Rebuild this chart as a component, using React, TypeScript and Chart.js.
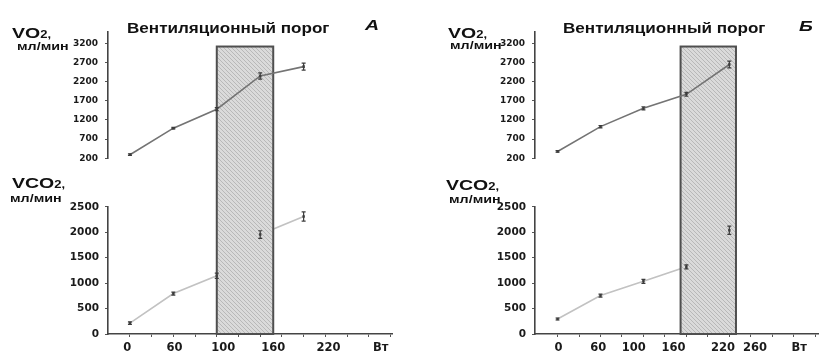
import React, { useEffect, useRef } from "react";
import { Chart, registerables } from "chart.js";

Chart.register(...registerables);

// ---------- data (panel А) ----------
const loadIdxA = [0, 2, 4, 6, 8];
const vo2A = [290, 985, 1480, 2350, 2595];
const vo2ErrA = [20, 20, 40, 80, 90];
const vco2A = [215, 795, 1145, 1955, 2310];
const vco2ErrA = [25, 30, 50, 75, 90];
const xLabelsA = ["0", "60", "100", "160", "220", "Вт"];
const xLabelPosA = [-0.12, 2.05, 4.3, 6.6, 9.15, 11.55];
const zoneA = [4.0, 6.6];

// ---------- data (panel Б) ----------
const loadIdxB = [0, 2, 4, 6, 8];
const vo2B = [375, 1025, 1505, 1870, 2650];
const vo2ErrB = [20, 30, 40, 50, 90];
const vco2B = [295, 755, 1035, 1320, 2040];
const vco2ErrB = [20, 30, 40, 40, 80];
const xLabelsB = ["0", "60", "100", "160", "220", "260", "Вт"];
const xLabelPosB = [0.05, 1.9, 3.55, 5.4, 7.7, 9.2, 11.25];
const zoneB = [5.73, 8.31];

// ---------- shared axes ----------
const vo2Ticks = [200, 700, 1200, 1700, 2200, 2700, 3200];
const vco2Ticks = [0, 500, 1000, 1500, 2000, 2500];
const minorTicks = [0, 1, 2, 3, 4, 5, 6, 7, 8, 9, 10, 11, 12];
const zoneTopVO2 = 3120;

type Panel = {
  x: number[];
  vo2: number[];
  vo2Err: number[];
  vco2: number[];
  vco2Err: number[];
  labels: string[];
  labelPos: number[];
  zone: number[];
  xMin: number;
  xMax: number;
  axisLeft: number;
  padRight: number;
};

const panelA: Panel = {
  x: loadIdxA, vo2: vo2A, vo2Err: vo2ErrA, vco2: vco2A, vco2Err: vco2ErrA,
  labels: xLabelsA, labelPos: xLabelPosA, zone: zoneA,
  xMin: -1.01, xMax: 12.07, axisLeft: 108, padRight: 19,
};
const panelB: Panel = {
  x: loadIdxB, vo2: vo2B, vo2Err: vo2ErrB, vco2: vco2B, vco2Err: vco2ErrB,
  labels: xLabelsB, labelPos: xLabelPosB, zone: zoneB,
  xMin: -1.05, xMax: 12.13, axisLeft: 124, padRight: 1,
};

function makeHatch(ctx: CanvasRenderingContext2D): CanvasPattern | string {
  const c = document.createElement("canvas");
  c.width = 4;
  c.height = 4;
  const g = c.getContext("2d");
  if (!g) return "#d6d6d6";
  g.fillStyle = "#dadada";
  g.fillRect(0, 0, 4, 4);
  g.strokeStyle = "#b8b8b8";
  g.lineWidth = 1;
  g.beginPath();
  g.moveTo(0, 0);
  g.lineTo(4, 4);
  g.stroke();
  return ctx.createPattern(c, "repeat") || "#d6d6d6";
}

const zonePlugin = {
  id: "zone",
  beforeDatasetDraw(chart: any, args: any, opts: any) {
    if (args.index !== 1) return;
    const { x, yv, yc } = chart.scales;
    const ctx = chart.ctx as CanvasRenderingContext2D;
    const l = x.getPixelForValue(opts.range[0]);
    const r = x.getPixelForValue(opts.range[1]);
    const t = yv.getPixelForValue(opts.top);
    const b = yc.getPixelForValue(0);
    ctx.save();
    ctx.fillStyle = makeHatch(ctx);
    ctx.fillRect(l, t, r - l, b - t);
    ctx.strokeStyle = "#4f4f4f";
    ctx.lineWidth = 2;
    ctx.strokeRect(l, t, r - l, b - t);
    ctx.restore();
  },
  afterDatasetDraw(chart: any, args: any) {
    const ds = chart.data.datasets[args.index];
    if (!ds.err) return;
    const scale = chart.scales[ds.yAxisID];
    const ctx = chart.ctx as CanvasRenderingContext2D;
    ctx.save();
    ctx.strokeStyle = "#3c3c3c";
    ctx.lineWidth = 1.2;
    args.meta.data.forEach((pt: any, i: number) => {
      const v = ds.data[i].y;
      const e = ds.err[i];
      const yt = scale.getPixelForValue(v + e);
      const yb = scale.getPixelForValue(v - e);
      ctx.beginPath();
      ctx.moveTo(pt.x, yt);
      ctx.lineTo(pt.x, yb);
      ctx.moveTo(pt.x - 2, yt);
      ctx.lineTo(pt.x + 2, yt);
      ctx.moveTo(pt.x - 2, yb);
      ctx.lineTo(pt.x + 2, yb);
      ctx.stroke();
    });
    ctx.restore();
  },
};

const tickFont = (size: number) => ({ family: "DejaVu Sans", size, weight: "bold" as const });

function buildConfig(p: Panel): any {
  const pts = (xs: number[], ys: number[]) => xs.map((x, i) => ({ x, y: ys[i] }));
  const xTicks = [
    ...minorTicks.map((v) => ({ value: v, lbl: "" })),
    ...p.labelPos.map((v, i) => ({ value: v, lbl: p.labels[i], isLabel: true })),
  ].sort((a, b) => a.value - b.value);

  const yCommon = (left: number) => ({
    type: "linear",
    position: "left",
    stack: "panel",
    afterFit: (s: any) => {
      s.width = left;
    },
  });

  return {
    type: "line",
    data: {
      datasets: [
        {
          label: "VCO2",
          data: pts(p.x, p.vco2),
          yAxisID: "yc",
          borderColor: "#c2c2c2",
          borderWidth: 1.6,
          pointRadius: 0,
          order: 4,
        },
        {
          label: "VO2",
          data: pts(p.x, p.vo2),
          yAxisID: "yv",
          borderColor: "#747474",
          borderWidth: 1.6,
          pointRadius: 0,
          order: 3,
        },
        {
          label: "VCO2 points",
          data: pts(p.x, p.vco2),
          yAxisID: "yc",
          showLine: false,
          pointStyle: "rect",
          pointRadius: 1.8,
          pointBackgroundColor: "#4a4a4a",
          pointBorderWidth: 0,
          order: 2,
          err: p.vco2Err,
        },
        {
          label: "VO2 points",
          data: pts(p.x, p.vo2),
          yAxisID: "yv",
          showLine: false,
          pointStyle: "rect",
          pointRadius: 1.8,
          pointBackgroundColor: "#4a4a4a",
          pointBorderWidth: 0,
          order: 1,
          err: p.vo2Err,
        },
      ],
    },
    options: {
      responsive: false,
      animation: false,
      events: [],
      layout: { padding: { top: 32, right: p.padRight, left: 0, bottom: 0 } },
      plugins: {
        legend: { display: false },
        tooltip: { enabled: false },
        zone: { range: p.zone, top: zoneTopVO2 },
      },
      scales: {
        x: {
          type: "linear",
          position: "bottom",
          min: p.xMin,
          max: p.xMax,
          afterBuildTicks: (s: any) => {
            s.ticks = xTicks.map((t) => ({ ...t }));
          },
          afterFit: (s: any) => {
            s.height = 20;
          },
          ticks: {
            autoSkip: false,
            maxRotation: 0,
            padding: 4,
            color: "#1a1a1a",
            font: tickFont(11.5),
            callback: (_v: any, i: number, ticks: any[]) => ticks[i].lbl,
          },
          grid: {
            drawOnChartArea: false,
            tickLength: 3,
            color: (c: any) => (c.tick && c.tick.isLabel ? "rgba(0,0,0,0)" : "#555"),
            lineWidth: 1,
          },
          border: { color: "#444", width: 1.6 },
        },
        yv: {
          ...yCommon(p.axisLeft),
          weight: 3,
          stackWeight: 126.3,
          min: 200,
          max: 3500,
          afterBuildTicks: (s: any) => {
            s.ticks = vo2Ticks.map((v) => ({ value: v }));
          },
          ticks: {
            autoSkip: false,
            padding: 7,
            color: "#1a1a1a",
            font: tickFont(9),
            callback: (v: any) => String(v),
          },
          grid: { drawOnChartArea: false, tickLength: 3, color: "#555" },
          border: { color: "#444", width: 1.6 },
        },
        ys: {
          ...yCommon(p.axisLeft),
          weight: 2,
          stackWeight: 48.7,
          min: 0,
          max: 1,
          ticks: { display: false },
          grid: { display: false },
          border: { display: false },
        },
        yc: {
          ...yCommon(p.axisLeft),
          weight: 1,
          stackWeight: 127.3,
          min: 0,
          max: 2500,
          afterBuildTicks: (s: any) => {
            s.ticks = vco2Ticks.map((v) => ({ value: v }));
          },
          ticks: {
            autoSkip: false,
            padding: 6,
            color: "#1a1a1a",
            font: tickFont(10.5),
            callback: (v: any) => String(v),
          },
          grid: { drawOnChartArea: false, tickLength: 3, color: "#555" },
          border: { color: "#444", width: 1.6 },
        },
      },
    },
    plugins: [zonePlugin],
  };
}

function PanelChart({ panel, left }: { panel: Panel; left: number }) {
  const ref = useRef<HTMLCanvasElement>(null);
  useEffect(() => {
    if (!ref.current) return;
    const chart = new Chart(ref.current, buildConfig(panel));
    return () => chart.destroy();
  }, [panel]);
  return (
    <canvas
      ref={ref}
      width={411}
      height={354}
      style={{ position: "absolute", left, top: 0, width: 411, height: 354, display: "block" }}
    />
  );
}

const SX = 1.3;

function Label({
  left,
  baseline,
  size,
  children,
  italic,
  sx = SX,
}: {
  left: number;
  baseline: number;
  size: number;
  children: React.ReactNode;
  italic?: boolean;
  sx?: number;
}) {
  return (
    <div
      style={{
        position: "absolute",
        left,
        top: baseline - 0.8465 * size,
        fontFamily: "'Liberation Sans', Arial, sans-serif",
        fontWeight: "bold",
        fontStyle: italic ? "italic" : "normal",
        fontSize: size,
        lineHeight: 1,
        whiteSpace: "nowrap",
        color: "#111",
        transform: `scaleX(${sx})`,
        transformOrigin: "left top",
      }}
    >
      {children}
    </div>
  );
}

function Gas({ name }: { name: string }) {
  return (
    <>
      {name}
      <span style={{ fontSize: 10 }}>2,</span>
    </>
  );
}

export default function App() {
  return (
    <div
      style={{
        position: "absolute",
        left: 0,
        top: 0,
        width: 822,
        height: 354,
        background: "#fff",
        overflow: "hidden",
      }}
    >
      <PanelChart panel={panelA} left={0} />
      <PanelChart panel={panelB} left={411} />

      {/* panel А */}
      <Label left={12} baseline={37.5} size={15}><Gas name="VO" /></Label>
      <Label left={17} baseline={50} size={11}>мл/мин</Label>
      <Label left={127} baseline={33} size={14} sx={1.22}>Вентиляционный порог</Label>
      <Label left={365} baseline={30} size={15} italic>А</Label>
      <Label left={12} baseline={188} size={15}><Gas name="VCO" /></Label>
      <Label left={10} baseline={202} size={11}>мл/мин</Label>

      {/* panel Б */}
      <Label left={448} baseline={38} size={15}><Gas name="VO" /></Label>
      <Label left={450} baseline={49} size={11}>мл/мин</Label>
      <Label left={563} baseline={33} size={14} sx={1.22}>Вентиляционный порог</Label>
      <Label left={799} baseline={31} size={15} italic>Б</Label>
      <Label left={446} baseline={190} size={15}><Gas name="VCO" /></Label>
      <Label left={449} baseline={203} size={11}>мл/мин</Label>
    </div>
  );
}
